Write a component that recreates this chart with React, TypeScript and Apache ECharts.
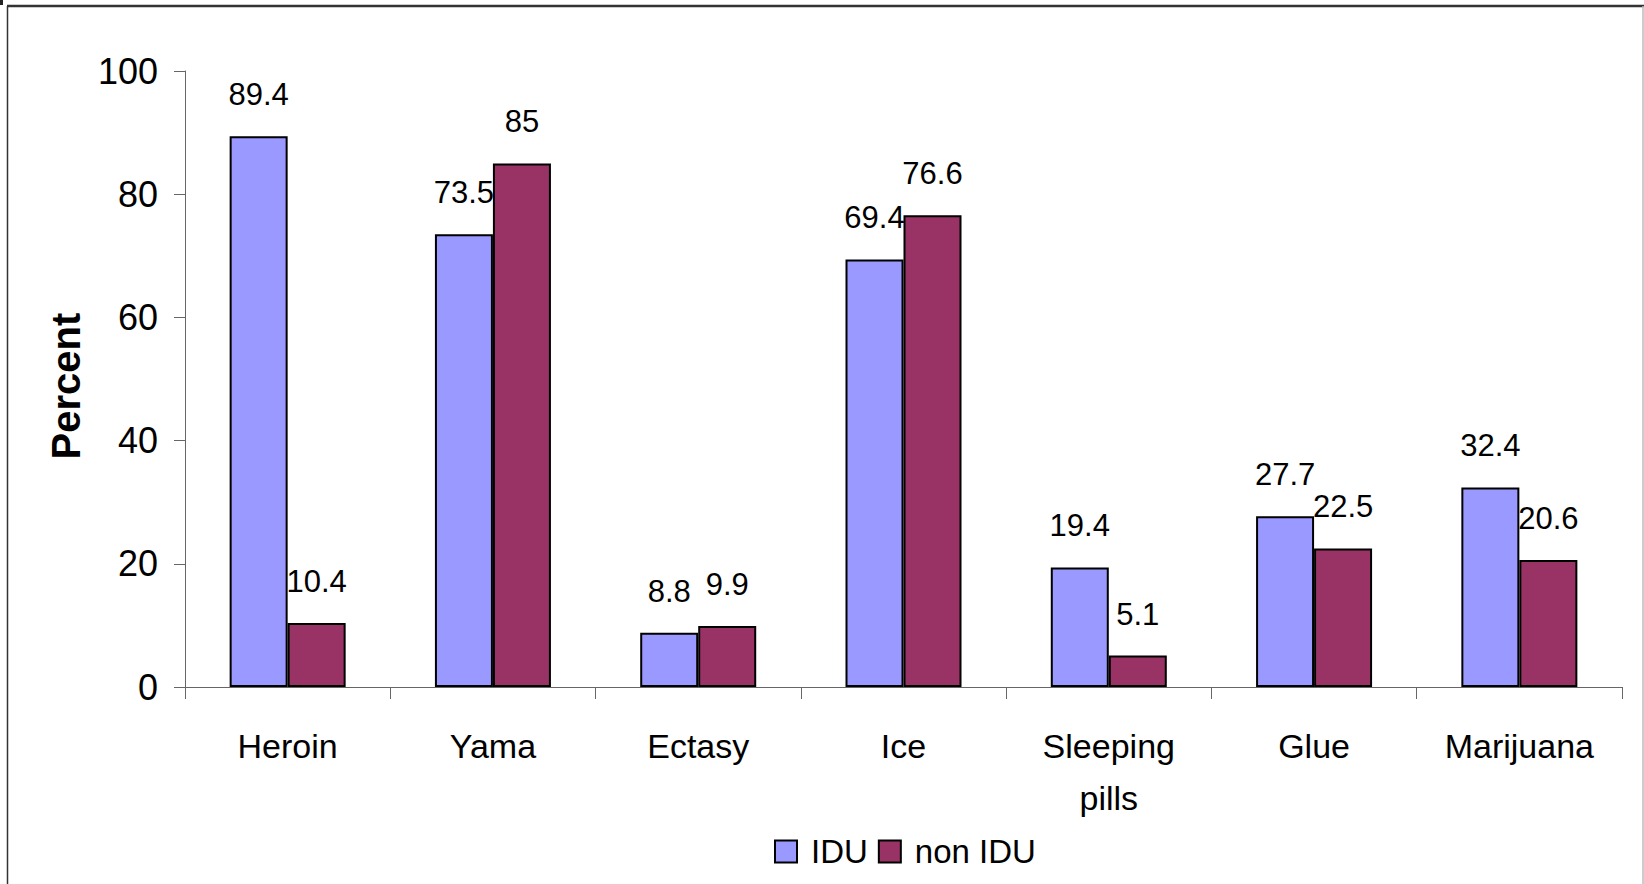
import React, { useEffect, useRef } from "react";
import * as echarts from "echarts";

const categories = ["Heroin", "Yama", "Ectasy", "Ice", "Sleeping\npills", "Glue", "Marijuana"];
const idu = [89.4, 73.5, 8.8, 69.4, 19.4, 27.7, 32.4];
const nonIdu = [10.4, 85, 9.9, 76.6, 5.1, 22.5, 20.6];
const yTicks = { min: 0, max: 100, interval: 20 };

const FONT = "'Liberation Sans', Arial, sans-serif";

export default function App() {
  const ref = useRef<HTMLDivElement>(null);
  useEffect(() => {
    document.body.style.margin = "0";
    const chart = echarts.init(ref.current!, null, { renderer: "svg" });
    const labelStyle = {
      show: true,
      position: "top" as const,
      distance: 26,
      color: "#000",
      fontSize: 31,
      fontFamily: FONT,
    };
    chart.setOption({
      animation: false,
      backgroundColor: "#fff",
      grid: { left: 185, right: 22, top: 71, bottom: 197, containLabel: false },
      legend: {
        left: 774,
        top: 835,
        padding: 0,
        itemWidth: 22,
        itemHeight: 22,
        itemGap: 10,
        icon: "rect",
        textStyle: { fontSize: 33, fontFamily: FONT, color: "#000", padding: [0, 0, 0, 9] },
        itemStyle: { borderColor: "#000", borderWidth: 2 },
        data: ["IDU", "non IDU"],
      },
      xAxis: {
        type: "category",
        data: categories,
        axisLine: { lineStyle: { color: "#666", width: 1 } },
        axisTick: { show: true, length: 12, alignWithLabel: false, lineStyle: { color: "#666" } },
        axisLabel: {
          color: "#000",
          fontSize: 34,
          lineHeight: 52,
          margin: 33,
          fontFamily: FONT,
          interval: 0,
        },
      },
      yAxis: {
        type: "value",
        min: yTicks.min,
        max: yTicks.max,
        interval: yTicks.interval,
        splitLine: { show: false },
        axisLine: { show: true, lineStyle: { color: "#666", width: 1 } },
        axisTick: { show: true, length: 11, lineStyle: { color: "#666" } },
        axisLabel: { color: "#000", fontSize: 36, margin: 27, fontFamily: FONT },
      },
      graphic: [
        {
          type: "text",
          x: 66,
          y: 386,
          rotation: Math.PI / 2,
          style: {
            text: "Percent",
            fontSize: 40,
            fontWeight: "bold",
            fontFamily: FONT,
            fill: "#000",
            align: "center",
            verticalAlign: "middle",
          },
        },
        { type: "line", shape: { x1: 7, y1: 6, x2: 1644, y2: 6 }, style: { stroke: "#333", lineWidth: 2.5 } },
        { type: "line", shape: { x1: 7.5, y1: 6, x2: 7.5, y2: 884 }, style: { stroke: "#333", lineWidth: 1.5 } },
        { type: "line", shape: { x1: 1643, y1: 6, x2: 1643, y2: 884 }, style: { stroke: "#bbb", lineWidth: 1.5 } },
        { type: "rect", shape: { x: 0, y: 0, width: 3, height: 5 }, style: { fill: "#222" } },
      ],
      series: [
        {
          name: "IDU",
          type: "bar",
          data: idu,
          barWidth: 58,
          barGap: "0%",
          itemStyle: { color: "#9999FF", borderColor: "#000", borderWidth: 2 },
          label: labelStyle,
        },
        {
          name: "non IDU",
          type: "bar",
          data: nonIdu,
          barWidth: 58,
          barGap: "0%",
          itemStyle: { color: "#993366", borderColor: "#000", borderWidth: 2 },
          label: labelStyle,
        },
      ],
    });
    return () => chart.dispose();
  }, []);
  return (
    <div
      ref={ref}
      style={{ position: "absolute", left: 0, top: 0, width: 1644, height: 884 }}
    />
  );
}
